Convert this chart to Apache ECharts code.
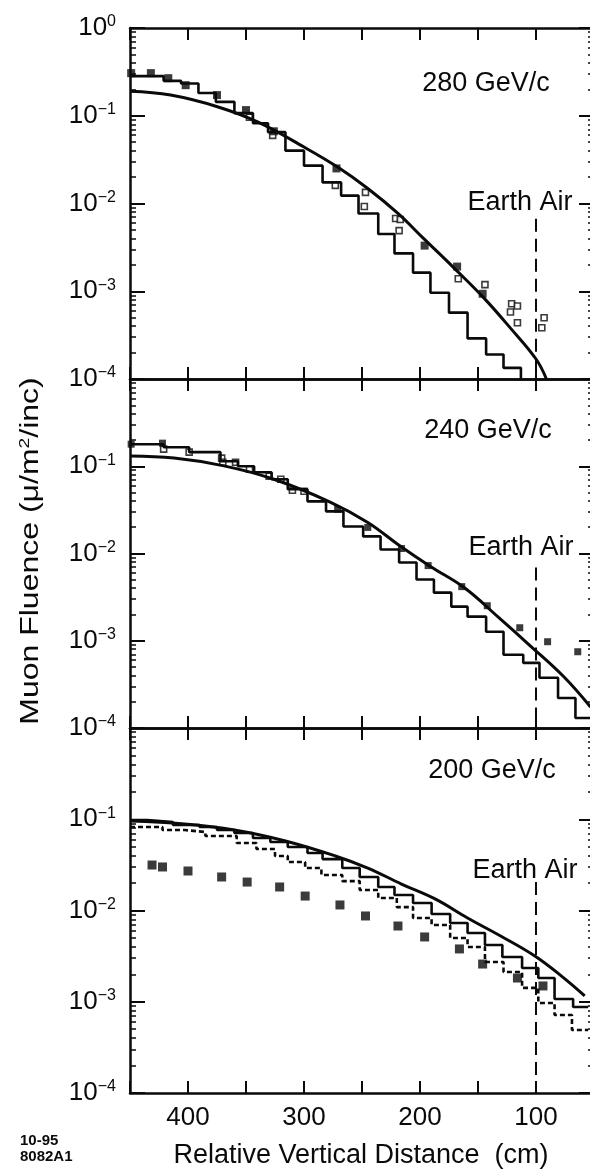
<!DOCTYPE html>
<html>
<head>
<meta charset="UTF-8">
<title>Muon Fluence</title>
<script src="https://cdn.jsdelivr.net/npm/echarts@6/dist/echarts.min.js"></script>
<style>
  html, body { margin: 0; padding: 0; background: #fff; }
  #chart { width: 590px; height: 1170px; }
</style>
</head>
<body>
<div id="chart"></div>
<script type="text/javascript">
// ---- data: [distance (cm), fluence] ----
// 280 GeV/c
var p1Hist = [[450,0.283],[421,0.250],[406,0.233],[391,0.182],[376,0.144],[360,0.107],[344,0.082],[331,0.065],[316,0.040],[300,0.027],[284,0.0174],[268,0.0123],[253,0.0077],[236,0.0045],[222,0.0027],[206,0.00163],[191,0.00096],[175,0.00057],[159,0.00029],[143,0.00019],[128,0.000134],[113,0.0001]];
var p1Curve = [[450,0.190],[415,0.172],[374,0.126],[340,0.085],[300,0.044],[271,0.026],[245,0.0148],[219,0.0077],[197,0.0040],[171,0.00186],[145,0.00084],[122,0.00038],[100,0.000169],[91,0.0001]];
var p1Filled = [[449,0.306],[432,0.306],[417,0.268],[402,0.223],[375,0.172],[350,0.116],[326,0.0665],[272,0.0251],[196,0.00331],[168,0.00191],[146,0.000936]];
var p1Open = [[347,0.0962],[327,0.0598],[273,0.0161],[247,0.0134],[248,0.00924],[221,0.00674],[217,0.00657],[218,0.00491],[167,0.00139],[144,0.00119],[121,0.00072],[116,0.00068],[122,0.00058],[116,0.000437],[93,0.000498],[95,0.000383]];

// 240 GeV/c
var p2Hist = [[450,0.179],[421,0.165],[399,0.145],[372,0.114],[357,0.100],[343,0.0853],[328,0.0709],[314,0.0544],[297,0.0396],[281,0.0304],[266,0.0204],[249,0.0157],[234,0.0111],[218,0.00788],[203,0.00503],[188,0.00356],[173,0.00246],[159,0.00189],[143,0.00127],[128,0.00069],[111,0.000558],[97,0.000376],[81,0.000221],[66,0.000130],[52,0.000130]];
var p2Curve = [[450,0.131],[412,0.124],[369,0.101],[326,0.0709],[277,0.0386],[245,0.0227],[219,0.0127],[191,0.0071],[162,0.00407],[133,0.00189],[104,0.000853],[76,0.000386],[53,0.000174]];
var p2Filled = [[449,0.179],[422,0.184],[271,0.0321],[245,0.0199],[216,0.0114],[193,0.00727],[164,0.00417],[142,0.00252],[114,0.00141],[90,0.000975],[64,0.000748]];
var p2Open = [[421,0.157],[399,0.145],[371,0.124],[370,0.111],[359,0.111],[347,0.0924],[330,0.0767],[320,0.0709],[310,0.053],[300,0.0516]];

// 200 GeV/c
var p3Hist = [[450,0.098],[435,0.0933],[413,0.0865],[390,0.0822],[375,0.0762],[360,0.0707],[344,0.0623],[329,0.0563],[314,0.0497],[297,0.0427],[284,0.0366],[267,0.0292],[252,0.0233],[236,0.0181],[222,0.0148],[206,0.0121],[190,0.00916],[174,0.00730],[159,0.00567],[144,0.00418],[129,0.00309],[112,0.00234],[98,0.00182],[84,0.00107],[68,0.000875],[55,0.000875]];
var p3Dotted = [[450,0.0822],[422,0.0762],[403,0.0725],[385,0.0655],[358,0.0549],[341,0.0472],[325,0.0396],[314,0.0340],[299,0.0292],[285,0.0245],[267,0.0210],[252,0.0168],[236,0.0137],[220,0.0109],[206,0.00828],[190,0.00694],[174,0.00500],[159,0.00398],[144,0.00273],[128,0.00212],[112,0.00142],[98,0.00097],[84,0.000716],[69,0.00049],[55,0.00049]];
var p3Curve = [[450,0.0957],[403,0.0887],[360,0.0762],[316,0.0578],[273,0.0396],[245,0.0292],[216,0.0195],[187,0.0134],[159,0.00828],[129,0.00513],[101,0.00317],[78,0.00191],[58,0.00116]];
var p3Filled = [[431,0.0315],[422,0.0300],[400,0.0271],[371,0.0233],[349,0.0205],[321,0.0181],[299,0.0144],[269,0.0115],[247,0.00871],[219,0.00676],[196,0.00513],[166,0.00379],[146,0.00259],[116,0.00182],[94,0.00149]];

var energies = ['280 GeV/c', '240 GeV/c', '200 GeV/c'];
var earthAirX = 100;
var earthAirTop = [0.0067, 0.0069, 0.0205];
var xTickLabels = [400, 300, 200, 100];

// ---- layout ----
var FONT = 'Liberation Sans, Arial, sans-serif';
var INK = '#0a0a0a';
// right edge of the frame sits just past the page edge, like the cropped scan
var grids = [
  {left: 130, width: 464, top: 28, height: 351, outerBoundsMode: 'none'},
  {left: 130, width: 464, top: 379, height: 349, outerBoundsMode: 'none'},
  {left: 130, width: 464, top: 728, height: 365, outerBoundsMode: 'none'}
];

function expLabel(showTop) {
  return function (v) {
    var e = Math.round(Math.log(v) / Math.LN10);
    if (e === 0 && !showTop) return '';
    return '{b|10}{s|' + (e === 0 ? '0' : '\u2212' + (-e)) + '}';
  };
}

var xAxes = [], yAxes = [];
grids.forEach(function (g, i) {
  [false, true].forEach(function (top) {
    xAxes.push({
      type: 'value', gridIndex: i, position: top ? 'top' : 'bottom',
      min: 50, max: 450, interval: 50, inverse: true,
      axisLine: {show: true, onZero: false, lineStyle: {color: INK, width: 2.5}},
      axisTick: {show: true, inside: true, length: 12, lineStyle: {color: INK, width: 2}},
      splitLine: {show: false},
      axisLabel: {
        show: !top && i === 2, margin: 12, color: INK, fontFamily: FONT, fontSize: 26,
        formatter: function (v) { return xTickLabels.indexOf(v) >= 0 ? String(v) : ''; }
      }
    });
  });
  [false, true].forEach(function (right) {
    yAxes.push({
      type: 'log', logBase: 10, gridIndex: i, position: right ? 'right' : 'left',
      min: 1e-4, max: 1, splitNumber: 4,
      axisLine: {show: true, onZero: false, lineStyle: {color: INK, width: 2.5}},
      axisTick: {show: true, inside: true, length: 15, lineStyle: {color: INK, width: 2}},
      minorTick: {show: true, splitNumber: 9, length: 6, lineStyle: {color: INK, width: 1.5}},
      splitLine: {show: false},
      axisLabel: {
        show: !right, margin: 14, formatter: expLabel(i === 0),
        rich: {
          b: {fontFamily: FONT, fontSize: 26, color: INK, lineHeight: 28},
          s: {fontFamily: FONT, fontSize: 16, color: INK, verticalAlign: 'top', lineHeight: 15}
        }
      }
    });
  });
});

function stepSeries(i, data, dash) {
  return {
    type: 'line', xAxisIndex: i * 2, yAxisIndex: i * 2, data: data, step: 'end',
    showSymbol: false, silent: true,
    lineStyle: {color: INK, width: 2.6, type: dash || 'solid'}
  };
}
function curveSeries(i, data) {
  return {
    type: 'line', xAxisIndex: i * 2, yAxisIndex: i * 2, data: data, smooth: 0.4,
    showSymbol: false, silent: true, lineStyle: {color: INK, width: 3}
  };
}
function pointSeries(i, data, open, size) {
  return {
    type: 'scatter', xAxisIndex: i * 2, yAxisIndex: i * 2, data: data,
    symbol: 'rect', symbolSize: size, silent: true,
    itemStyle: open ? {color: '#fff', borderColor: INK, borderWidth: 1.6} : {color: INK}
  };
}
function earthAirSeries(i) {
  return {
    type: 'line', xAxisIndex: i * 2, yAxisIndex: i * 2, showSymbol: false, silent: true,
    data: [[earthAirX, earthAirTop[i]], [earthAirX, 1e-4]],
    lineStyle: {color: INK, width: 2, type: [13, 7]}
  };
}

var series = [
  earthAirSeries(0), stepSeries(0, p1Hist), curveSeries(0, p1Curve),
  pointSeries(0, p1Open, true, 6), pointSeries(0, p1Filled, false, 8),
  earthAirSeries(1), stepSeries(1, p2Hist), curveSeries(1, p2Curve),
  pointSeries(1, p2Open, true, 6), pointSeries(1, p2Filled, false, 7),
  earthAirSeries(2), stepSeries(2, p3Dotted, [5, 3]), stepSeries(2, p3Hist), curveSeries(2, p3Curve),
  pointSeries(2, p3Filled, false, 9)
];

function txt(x, y, s, size, align, weight) {
  return {type: 'text', x: x, y: y, silent: true,
    style: {text: s, fill: INK, font: (weight || 'normal') + ' ' + size + 'px ' + FONT,
      align: align || 'center', verticalAlign: 'middle'}};
}

var graphic = [
  txt(486, 84, energies[0], 27), txt(488, 431, energies[1], 27), txt(492, 771, energies[2], 27),
  txt(520, 203, 'Earth Air', 27), txt(521, 548, 'Earth Air', 27), txt(525, 871, 'Earth Air', 27),
  txt(361, 1156, 'Relative Vertical Distance  (cm)', 27),
  txt(20, 1141, '10-95', 15, 'left', 'bold'), txt(20, 1157, '8082A1', 15, 'left', 'bold'),
  {
    type: 'text', x: 31, y: 551, rotation: Math.PI / 2, scaleX: 1.28, silent: true,
    style: {
      text: '{a|Muon Fluence (\u03bc/m}{s|2}{a|/inc)}', align: 'center', verticalAlign: 'middle',
      rich: {
        a: {fontFamily: FONT, fontSize: 25, fill: INK, lineHeight: 28},
        s: {fontFamily: FONT, fontSize: 15, fill: INK, verticalAlign: 'top', lineHeight: 15}
      }
    }
  }
];

var myChart = echarts.init(document.getElementById('chart'), null, {renderer: 'canvas'});
myChart.setOption({
  backgroundColor: '#fff',
  animation: false,
  grid: grids,
  xAxis: xAxes,
  yAxis: yAxes,
  series: series,
  graphic: graphic
});
</script>
</body>
</html>
